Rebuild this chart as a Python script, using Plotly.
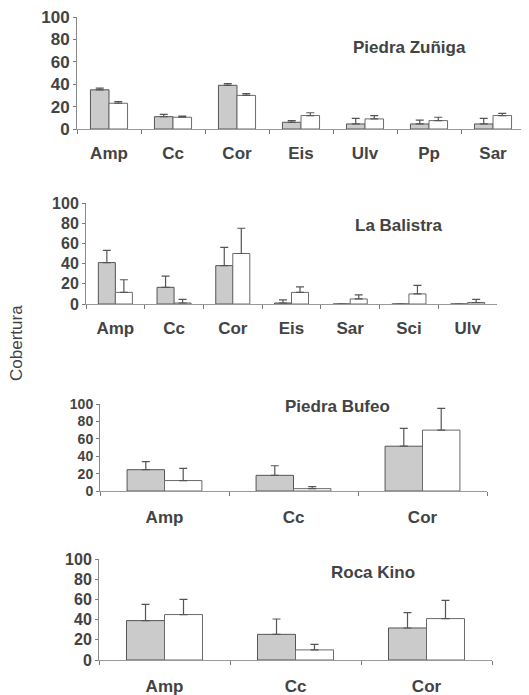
import plotly.graph_objects as go

# ---- data ----
p1_cats = ["Amp", "Cc", "Cor", "Eis", "Ulv", "Pp", "Sar"]
p1_gray = [35, 11, 39, 6, 4.5, 4.5, 4.5]
p1_gray_err = [1.5, 2, 1.5, 1.5, 5, 3.5, 5]
p1_white = [23, 10.5, 30, 12, 9, 7.5, 12]
p1_white_err = [1.5, 1, 1.5, 2.5, 3, 3, 2]

p2_cats = ["Amp", "Cc", "Cor", "Eis", "Sar", "Sci", "Ulv"]
p2_gray = [41, 16.5, 38, 1, 0, 0, 0]
p2_gray_err = [12, 11, 18, 3, 0, 0, 0]
p2_white = [11.5, 1, 50, 11.5, 5, 10, 1.5]
p2_white_err = [12.5, 3.6, 25, 5.5, 4, 8.5, 3]

p3_cats = ["Amp", "Cc", "Cor"]
p3_gray = [24.5, 18, 51.5]
p3_gray_err = [9.3, 11, 20.5]
p3_white = [12, 2.7, 70]
p3_white_err = [14, 2.3, 25]

p4_cats = ["Amp", "Cc", "Cor"]
p4_gray = [39, 25.4, 31.7]
p4_gray_err = [16, 15.2, 15.2]
p4_white = [45, 10, 41]
p4_white_err = [15, 5.5, 18]

titles = ["Piedra Zuñiga", "La Balistra", "Piedra Bufeo", "Roca Kino"]
y_ticks = [0, 20, 40, 60, 80, 100]

# page is offset by the default 8px body margin
OX, OY = 8, 8
W, H = 529 - OX, 695 - OY


def px_x(x):
    return (x - OX) / W


def px_y(y):
    return 1 - (y - OY) / H


panels = [
    (p1_cats, p1_gray, p1_gray_err, p1_white, p1_white_err),
    (p2_cats, p2_gray, p2_gray_err, p2_white, p2_white_err),
    (p3_cats, p3_gray, p3_gray_err, p3_white, p3_white_err),
    (p4_cats, p4_gray, p4_gray_err, p4_white, p4_white_err),
]
# page pixel geometry: (x_left, x_right, y_zero_px, y_hundred_px)
geom = [
    (77, 525, 129, 17),
    (86, 497, 304, 203),
    (100, 487, 491, 404),
    (99, 492, 660, 559),
]
ytick_size = [17, 16, 14, 16]
xlabel_standoff = [9, 9, 11, 11]
title_pos = [(409, 48), (398, 225), (337, 406), (373, 572)]

TXT = "#434343"
FONT = "Liberation Sans"

fig = go.Figure()
for i, (cats, g, ge, w, we) in enumerate(panels):
    n = "" if i == 0 else str(i + 1)
    xa, ya = "x" + n, "y" + n
    fig.add_trace(go.Bar(
        x=cats, y=g, xaxis=xa, yaxis=ya, showlegend=False,
        marker=dict(color="#cbcbcb", line=dict(color="#555555", width=1)),
        error_y=dict(type="data", array=ge, arrayminus=[0] * len(ge), symmetric=False,
                     color="#555555", thickness=1.2, width=4),
        offsetgroup="g",
    ))
    fig.add_trace(go.Bar(
        x=cats, y=w, xaxis=xa, yaxis=ya, showlegend=False,
        marker=dict(color="#ffffff", line=dict(color="#6a6a6a", width=1)),
        error_y=dict(type="data", array=we, arrayminus=[0] * len(we), symmetric=False,
                     color="#555555", thickness=1.2, width=4),
        offsetgroup="w",
    ))
    xl, xr, y0, y100 = geom[i]
    fig.update_layout(**{
        "xaxis" + n: dict(
            domain=[px_x(xl), px_x(xr)], anchor=ya, type="category", automargin=False,
            showline=True, linecolor="#9a9a9a", linewidth=1,
            ticks="outside", tickson="boundaries", ticklen=4, tickcolor="#777777",
            showgrid=False, zeroline=False,
            tickfont=dict(family=FONT, size=17, color=TXT, weight="bold"),
            ticklabelstandoff=xlabel_standoff[i], ticklabeloverflow="allow",
        ),
        "yaxis" + n: dict(
            domain=[px_y(y0), px_y(y100)], anchor=xa, range=[0, 100], automargin=False,
            tickvals=y_ticks, showline=True, linecolor="#8a8a8a", linewidth=1,
            ticks="outside", ticklen=3, tickcolor="#777777",
            showgrid=False, zeroline=False, ticklabeloverflow="allow",
            tickfont=dict(family=FONT, size=ytick_size[i], color=TXT, weight="bold"),
        ),
    })
    tx, ty = title_pos[i]
    fig.add_annotation(x=px_x(tx), y=px_y(ty), xref="paper", yref="paper",
                       text=titles[i], showarrow=False, xanchor="center", yanchor="middle",
                       font=dict(family=FONT, size=17, color=TXT, weight="bold"))

fig.add_annotation(x=px_x(16), y=px_y(343), xref="paper", yref="paper",
                   text="Cobertura", textangle=-90, showarrow=False,
                   xanchor="center", yanchor="middle",
                   font=dict(family=FONT, size=17, color=TXT))

fig.update_layout(
    width=W, height=H, margin=dict(l=0, r=0, t=0, b=0, pad=0, autoexpand=False),
    paper_bgcolor="white", plot_bgcolor="white",
    barmode="group", bargap=0.42, bargroupgap=0,
)
fig.write_html("out.html")
